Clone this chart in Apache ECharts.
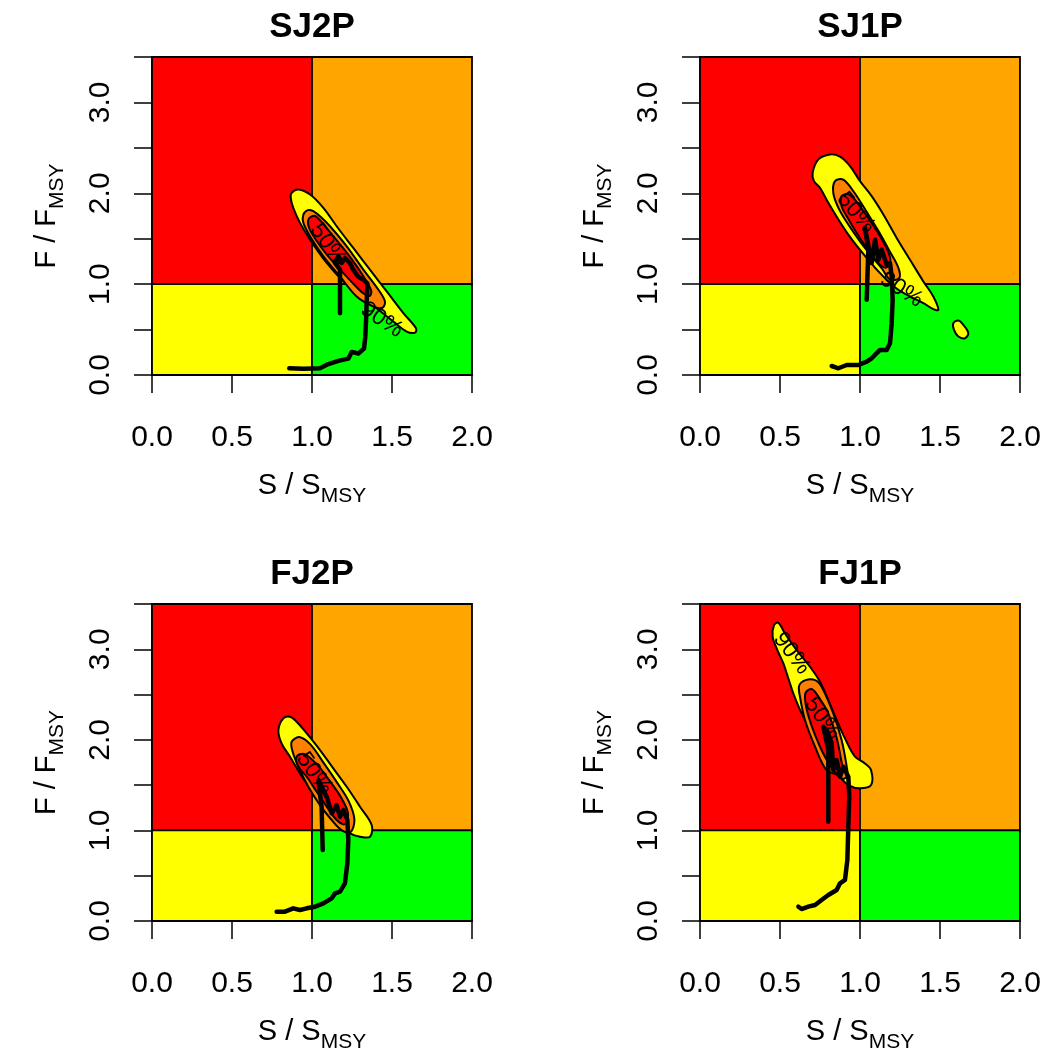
<!DOCTYPE html>
<html>
<head>
<meta charset="utf-8">
<script src="https://cdn.jsdelivr.net/npm/echarts@6/dist/echarts.min.js"></script>
<style>html,body{margin:0;padding:0;background:#fff}#c{width:1046px;height:1055px}</style>
</head>
<body>
<div id="c"></div>
<script>
// ---------- data ----------
const panelTitles = ['SJ2P', 'SJ1P', 'FJ2P', 'FJ1P'];
const xTicks = [0, 0.5, 1, 1.5, 2];
const yTickLabels = [0, 1, 2, 3];
const xMin = 0, xMax = 2, yMin = 0, yMax = 3.5;

// quadrants (S/Smsy, F/Fmsy)
const quadX0 = [0, 1, 0, 1];
const quadX1 = [1, 2, 1, 2];
const quadY0 = [1, 1, 0, 0];
const quadY1 = [3.5, 3.5, 1, 1];

// SJ2P
const sj2pOuter = [[0.873,2.005],[0.915,2.042],[0.988,1.987],[1.071,1.840],[1.154,1.637],[1.258,1.398],[1.362,1.159],[1.467,0.920],[1.571,0.681],[1.650,0.515],[1.644,0.467],[1.592,0.478],[1.508,0.589],[1.404,0.736],[1.300,0.883],[1.196,1.030],[1.092,1.233],[0.988,1.490],[0.925,1.674],[0.883,1.840],[0.867,1.950]];
const sj2pMid = [[0.946,1.766],[0.975,1.815],[1.008,1.803],[1.060,1.730],[1.1125,1.637],[1.217,1.416],[1.321,1.159],[1.415,0.938],[1.456,0.809],[1.440,0.740],[1.383,0.754],[1.279,0.864],[1.175,1.085],[1.071,1.306],[0.9875,1.527],[0.946,1.674]];
const sj2pInner = [[0.980,1.720],[1.020,1.750],[1.090,1.620],[1.170,1.450],[1.250,1.270],[1.320,1.090],[1.370,0.930],[1.360,0.870],[1.320,0.900],[1.250,1.020],[1.170,1.170],[1.090,1.330],[1.020,1.500],[0.980,1.630]];
const sj2pTraj = [[0.858,0.074],[0.946,0.070],[1.050,0.074],[1.102,0.120],[1.165,0.156],[1.227,0.180],[1.248,0.254],[1.290,0.236],[1.325,0.290],[1.333,0.419],[1.338,0.603],[1.342,0.824],[1.346,1.008],[1.320,1.050],[1.290,1.080],[1.258,1.159],[1.237,1.233],[1.206,1.288],[1.185,1.233],[1.165,1.306],[1.144,1.233],[1.175,1.159],[1.175,0.975],[1.175,0.681]];

// SJ1P
const sj1pOuter = [[0.704,2.226],[0.740,2.373],[0.8125,2.428],[0.875,2.403],[0.9375,2.299],[1.000,2.134],[1.073,1.968],[1.146,1.766],[1.229,1.509],[1.3125,1.269],[1.396,1.030],[1.458,0.864],[1.490,0.717],[1.458,0.725],[1.396,0.791],[1.3125,0.864],[1.240,0.938],[1.177,1.030],[1.115,1.140],[1.052,1.269],[0.990,1.398],[0.927,1.545],[0.865,1.711],[0.802,1.895],[0.750,2.060],[0.7125,2.134]];
const sj1pIsland = [[1.583,0.570],[1.615,0.600],[1.646,0.552],[1.677,0.460],[1.656,0.405],[1.615,0.423],[1.5875,0.497]];
const sj1pMid = [[0.844,2.134],[0.895,2.150],[0.960,2.020],[1.040,1.800],[1.110,1.600],[1.180,1.380],[1.240,1.180],[1.245,1.067],[1.1875,1.050],[1.135,1.177],[1.073,1.306],[1.000,1.471],[0.927,1.656],[0.865,1.840],[0.833,2.005]];
const sj1pInner = [[0.885,1.968],[0.935,1.985],[1.010,1.830],[1.085,1.640],[1.150,1.450],[1.190,1.270],[1.160,1.180],[1.104,1.251],[1.042,1.398],[0.979,1.563],[0.917,1.747],[0.885,1.858]];
const sj1pTraj = [[0.823,0.099],[0.865,0.074],[0.917,0.110],[0.990,0.110],[1.042,0.147],[1.073,0.184],[1.125,0.276],[1.167,0.276],[1.1875,0.349],[1.198,0.570],[1.204,0.828],[1.198,1.085],[1.1875,1.233],[1.167,1.214],[1.135,1.380],[1.115,1.269],[1.094,1.490],[1.073,1.233],[1.031,1.619],[1.052,1.380],[1.042,0.828]];

// FJ2P
const fj2pOuter = [[0.790,2.108],[0.821,2.237],[0.8625,2.255],[0.904,2.200],[0.967,2.071],[1.050,1.887],[1.133,1.685],[1.217,1.482],[1.300,1.262],[1.373,1.060],[1.3625,0.931],[1.300,0.931],[1.2375,0.968],[1.175,1.060],[1.1125,1.189],[1.050,1.317],[0.9875,1.465],[0.925,1.630],[0.8625,1.814],[0.810,1.961]];
const fj2pMid = [[0.873,1.979],[0.925,2.030],[0.990,1.950],[1.075,1.740],[1.160,1.520],[1.230,1.320],[1.265,1.120],[1.240,0.980],[1.185,1.004],[1.123,1.115],[1.050,1.280],[0.977,1.482],[0.915,1.703],[0.879,1.869]];
const fj2pInner = [[0.904,1.814],[0.950,1.845],[1.030,1.730],[1.105,1.560],[1.180,1.370],[1.225,1.190],[1.205,1.070],[1.154,1.115],[1.092,1.262],[1.029,1.427],[0.967,1.593],[0.915,1.703]];
const fj2pTraj = [[0.779,0.103],[0.831,0.103],[0.883,0.140],[0.925,0.122],[0.967,0.140],[1.019,0.158],[1.071,0.195],[1.123,0.250],[1.144,0.305],[1.175,0.324],[1.206,0.416],[1.221,0.637],[1.227,0.894],[1.221,1.115],[1.196,1.225],[1.175,1.151],[1.154,1.280],[1.123,1.189],[1.092,1.372],[1.060,1.482],[1.040,1.556],[1.060,1.262],[1.067,0.784]];

// FJ1P
const fj1pOuter = [[0.4625,3.267],[0.489,3.293],[0.531,3.175],[0.604,2.991],[0.6875,2.807],[0.750,2.641],[0.802,2.439],[0.854,2.219],[0.906,2.016],[0.969,1.814],[1.031,1.740],[1.069,1.667],[1.069,1.501],[1.000,1.465],[0.927,1.501],[0.875,1.593],[0.823,1.722],[0.771,1.887],[0.719,2.035],[0.667,2.182],[0.621,2.348],[0.583,2.513],[0.552,2.679],[0.521,2.844],[0.479,3.010],[0.454,3.138]];
const fj1pMid = [[0.620,2.600],[0.660,2.660],[0.720,2.660],[0.760,2.586],[0.833,2.292],[0.885,1.998],[0.917,1.703],[0.920,1.600],[0.890,1.570],[0.850,1.620],[0.790,1.667],[0.719,1.924],[0.656,2.219],[0.625,2.476]];
const fj1pInner = [[0.660,2.520],[0.700,2.560],[0.750,2.450],[0.800,2.300],[0.850,2.050],[0.880,1.800],[0.890,1.660],[0.860,1.620],[0.820,1.700],[0.770,1.850],[0.720,2.050],[0.680,2.250],[0.660,2.400]];
const fj1pTraj = [[0.615,0.158],[0.635,0.132],[0.677,0.158],[0.719,0.177],[0.760,0.232],[0.802,0.287],[0.854,0.342],[0.875,0.416],[0.906,0.453],[0.921,0.673],[0.927,1.041],[0.933,1.372],[0.927,1.593],[0.896,1.703],[0.875,1.593],[0.854,1.777],[0.833,1.667],[0.823,1.961],[0.792,2.108],[0.771,2.145],[0.802,1.887],[0.802,1.096]];

// contour labels per panel: [x, y], text, angle(deg, screen clockwise)
const labelPos = [
  [[1.436,0.607],[1.100,1.435]],
  [[1.260,0.938],[0.975,1.785]],
  [[1.015,1.630]],
  [[0.573,2.955],[0.765,2.237]]
];
const labelText = [['90%','50%'],['90%','50%'],['50%'],['90%','50%']];
const labelAngle = [[34,55],[33,50],[55],[53,55]];

const polygonsByPanel = [
  [sj2pOuter, sj2pMid, sj2pInner],
  [sj1pOuter, sj1pIsland, sj1pMid, sj1pInner],
  [fj2pOuter, fj2pMid, fj2pInner],
  [fj1pOuter, fj1pMid, fj1pInner]
];
const polygonKind = [
  ['outer','mid','inner'],
  ['outer','outer','mid','inner'],
  ['outer','mid','inner'],
  ['outer','mid','inner']
];
const trajectories = [sj2pTraj, sj1pTraj, fj2pTraj, fj1pTraj];

// ---------- styling ----------
const FONT = '"Liberation Sans", Arial, Helvetica, sans-serif';
const quadColors = ['#FF0000', '#FFA500', '#FFFF00', '#00FF00'];
const kindFill = {outer: '#FFFF00', mid: '#FF8000', inner: '#FF0000'};
const gridPos = [
  {left: 152, top: 57, width: 320, height: 318},
  {left: 700, top: 57, width: 320, height: 318},
  {left: 152, top: 604, width: 320, height: 317},
  {left: 700, top: 604, width: 320, height: 317}
];

const grids = [], xAxes = [], yAxes = [], series = [], graphics = [];
const nameRich = {
  m: {fontSize: 29, fontFamily: FONT, color: '#000', lineHeight: 30, verticalAlign: 'top'},
  s: {fontSize: 21, fontFamily: FONT, color: '#000', lineHeight: 36, verticalAlign: 'bottom'}
};

for (let i = 0; i < 4; i++) {
  const g = gridPos[i];
  grids.push(Object.assign({containLabel: false}, g));
  xAxes.push({
    gridIndex: i, type: 'value', min: xMin, max: xMax, interval: 0.5,
    axisLine: {show: true, onZero: false, lineStyle: {color: '#000', width: 1.5}},
    axisTick: {show: true, length: 18, lineStyle: {color: '#000', width: 1.5}},
    splitLine: {show: false},
    axisLabel: {fontSize: 30, fontFamily: FONT, color: '#000', margin: 48,
      formatter: v => xTicks.some(t => Math.abs(t - v) < 1e-9) ? v.toFixed(1) : ''},
    name: '{m|S / S}{s|MSY}', nameLocation: 'middle', nameGap: 96,
    nameTextStyle: {rich: nameRich}
  });
  yAxes.push({
    gridIndex: i, type: 'value', min: yMin, max: yMax, interval: 0.5,
    axisLine: {show: true, onZero: false, lineStyle: {color: '#000', width: 1.5}},
    axisTick: {show: true, length: 18, lineStyle: {color: '#000', width: 1.5}},
    splitLine: {show: false},
    axisLabel: {fontSize: 30, fontFamily: FONT, color: '#000', margin: 36, rotate: 90,
      showMaxLabel: true,
      formatter: v => yTickLabels.some(t => Math.abs(t - v) < 1e-9) ? v.toFixed(1) : ''},
    name: '{m|F / F}{s|MSY}', nameLocation: 'middle', nameGap: 84, nameRotate: 90,
    nameTextStyle: {rich: nameRich}
  });

  // quadrants
  series.push({
    type: 'custom', xAxisIndex: i, yAxisIndex: i, z: 1, silent: true,
    data: quadX0.map((x0, k) => [x0, quadY0[k]]),
    renderItem: (params, api) => {
      const k = params.dataIndex;
      const p1 = api.coord([quadX0[k], quadY1[k]]);
      const p2 = api.coord([quadX1[k], quadY0[k]]);
      return {type: 'rect', shape: {x: p1[0], y: p1[1], width: p2[0] - p1[0], height: p2[1] - p1[1]},
        style: {fill: quadColors[k], stroke: '#000', lineWidth: 1.8}};
    }
  });

  // contours
  const polys = polygonsByPanel[i], kinds = polygonKind[i];
  series.push({
    type: 'custom', xAxisIndex: i, yAxisIndex: i, z: 2, silent: true,
    data: polys.map(p => p[0]),
    renderItem: (params, api) => {
      const k = params.dataIndex;
      const pts = polys[k].map(p => api.coord(p));
      return {type: 'polygon', shape: {points: pts, smooth: 0.35},
        style: {fill: kindFill[kinds[k]], stroke: '#000', lineWidth: 2}};
    }
  });

  // trajectory
  series.push({
    type: 'line', xAxisIndex: i, yAxisIndex: i, z: 4, silent: true,
    data: trajectories[i], symbol: 'none', smooth: false,
    lineStyle: {color: '#000', width: 4.5, cap: 'round', join: 'round'}
  });

  // contour labels
  const lp = labelPos[i], lt = labelText[i], la = labelAngle[i];
  series.push({
    type: 'custom', xAxisIndex: i, yAxisIndex: i, z: 5, silent: true,
    data: lp,
    renderItem: (params, api) => {
      const k = params.dataIndex;
      const c = api.coord(lp[k]);
      return {type: 'text', x: c[0], y: c[1], rotation: -la[k] * Math.PI / 180,
        style: {text: lt[k], fill: '#000', font: '23px ' + FONT, align: 'center', verticalAlign: 'middle'}};
    }
  });

  graphics.push({
    type: 'text', x: g.left + g.width / 2, y: g.top - 30,
    style: {text: panelTitles[i], fill: '#000', font: 'bold 35px ' + FONT, align: 'center', verticalAlign: 'middle'}
  });
}

const chart = echarts.init(document.getElementById('c'), null, {renderer: 'canvas'});
chart.setOption({
  animation: false,
  backgroundColor: '#fff',
  grid: grids, xAxis: xAxes, yAxis: yAxes, series: series,
  graphic: graphics
});
</script>
</body>
</html>
